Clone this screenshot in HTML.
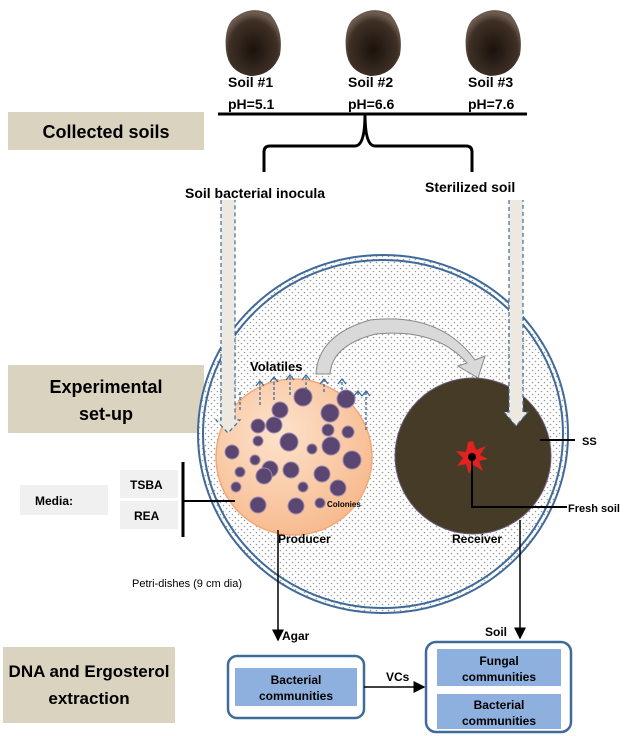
<!DOCTYPE html>
<html><head><meta charset="utf-8"><style>
body{margin:0;background:#fff;width:633px;height:736px;overflow:hidden;font-family:"Liberation Sans",sans-serif}
svg{position:absolute;left:0;top:0}
text{font-family:"Liberation Sans",sans-serif;font-weight:bold}
</style></head><body>
<svg width="633" height="736" viewBox="0 0 633 736">
<defs>
<pattern id="dots" width="6" height="6" patternUnits="userSpaceOnUse">
<rect width="6" height="6" fill="#fff"/><circle cx="1.5" cy="1.5" r="0.8" fill="#999"/><circle cx="4.5" cy="4.5" r="0.8" fill="#999"/>
</pattern>
<radialGradient id="soil" cx="50%" cy="60%" r="55%"><stop offset="0" stop-color="#1a120c"/><stop offset="0.8" stop-color="#3f3026"/><stop offset="1" stop-color="#6b5a4e"/></radialGradient>
<radialGradient id="agar" cx="40%" cy="35%" r="70%"><stop offset="0" stop-color="#fde2cc"/><stop offset="1" stop-color="#f7b98c"/></radialGradient>
<marker id="ah" markerWidth="8" markerHeight="8" refX="7" refY="4" orient="auto"><path d="M0,0 L8,4 L0,8z" fill="#000"/></marker>
</defs>
<!-- soils -->
<path d="M232,20 Q250,4 270,14 Q284,30 280,55 Q272,76 250,76 Q228,72 226,50 Q224,30 232,20Z" fill="url(#soil)"/>
<path d="M352,20 Q370,4 390,14 Q404,30 400,55 Q392,76 370,76 Q348,72 346,50 Q344,30 352,20Z" fill="url(#soil)"/>
<path d="M472,20 Q490,4 510,14 Q524,30 520,55 Q512,76 490,76 Q468,72 466,50 Q464,30 472,20Z" fill="url(#soil)"/>
<text x="228" y="87" font-size="14">Soil #1</text>
<text x="348" y="87" font-size="14">Soil #2</text>
<text x="468" y="87" font-size="14">Soil #3</text>
<text x="228" y="109" font-size="14">pH=5.1</text>
<text x="348" y="109" font-size="14">pH=6.6</text>
<text x="468" y="109" font-size="14">pH=7.6</text>
<line x1="218" y1="114" x2="527" y2="114" stroke="#000" stroke-width="3"/>
<path d="M365,114 Q365,146 355,146 L270,146 Q264,146 264,152 L264,172 M365,114 Q365,146 375,146 L466,146 Q472,146 472,152 L472,172" fill="none" stroke="#000" stroke-width="3"/>
<text x="185" y="198" font-size="14">Soil bacterial inocula</text>
<text x="425" y="192" font-size="14">Sterilized soil</text>
<!-- left labels -->
<rect x="8" y="112" width="196" height="38" fill="#d9d3bf"/>
<text x="106" y="138" font-size="18" text-anchor="middle">Collected soils</text>
<rect x="8" y="365" width="196" height="68" fill="#d9d3bf"/>
<text x="106" y="393" font-size="18" text-anchor="middle">Experimental</text>
<text x="106" y="420" font-size="18" text-anchor="middle">set-up</text>
<rect x="3" y="647" width="172" height="76" fill="#d9d3bf"/>
<text x="89" y="677" font-size="17" text-anchor="middle">DNA and Ergosterol</text>
<text x="89" y="704" font-size="17" text-anchor="middle">extraction</text>
<!-- big dish -->
<ellipse cx="383" cy="434" rx="185" ry="179" fill="url(#dots)" stroke="#3f6a99" stroke-width="2"/>
<ellipse cx="383" cy="434" rx="180" ry="174" fill="none" stroke="#3f6a99" stroke-width="2"/>
<!-- producer -->
<circle cx="294" cy="457" r="78" fill="url(#agar)" stroke="#f3a877" stroke-width="1.5"/>
<g fill="#5a4670" stroke="#9a88ad" stroke-width="1">
<circle cx="280" cy="410" r="8"/><circle cx="303" cy="397" r="9"/><circle cx="330" cy="413" r="9"/><circle cx="346" cy="399" r="9"/>
<circle cx="274" cy="425" r="8"/><circle cx="328" cy="430" r="6"/><circle cx="348" cy="432" r="6"/>
<circle cx="258" cy="441" r="5"/><circle cx="289" cy="442" r="9"/><circle cx="312" cy="449" r="5"/><circle cx="331" cy="446" r="9"/><circle cx="352" cy="460" r="9"/>
<circle cx="232" cy="452" r="7"/><circle cx="270" cy="469" r="8"/><circle cx="240" cy="472" r="5"/><circle cx="291" cy="470" r="8"/><circle cx="322" cy="474" r="8"/>
<circle cx="264" cy="476" r="8"/><circle cx="236" cy="487" r="5"/><circle cx="303" cy="487" r="5"/><circle cx="338" cy="488" r="8"/>
<circle cx="258" cy="505" r="8"/><circle cx="296" cy="506" r="8"/><circle cx="320" cy="503" r="5"/><circle cx="255" cy="460" r="5"/><circle cx="258" cy="426" r="7"/>
</g>
<text x="327" y="507" font-size="8">Colonies</text>
<g fill="none" stroke="#3f6a99" stroke-width="1.3" stroke-dasharray="3,2">
<path d="M240,410 V392 M260,405 V382 M274,400 V378 M290,395 V376 M306,390 V376 M324,392 V380 M342,395 V380 M358,395 V392 M366,430 V392"/>
</g>
<g fill="none" stroke="#3f6a99" stroke-width="1.3">
<path d="M256,386 l4,-5 l4,5 M270,382 l4,-5 l4,5 M286,380 l4,-5 l4,5 M302,380 l4,-5 l4,5 M320,384 l4,-5 l4,5 M338,384 l4,-5 l4,5 M354,396 l4,-5 l4,5 M362,396 l4,-5 l4,5"/>
</g>
<text x="250" y="371" font-size="13">Volatiles</text>
<path d="M316,374 Q318,335 370,320 Q440,312 475,360 L485,356 L478,378 L458,366 L467,363 Q436,328 376,334 Q332,345 330,374 Z" fill="#d9d9d9" stroke="#888" stroke-width="1"/>
<!-- receiver -->
<circle cx="473" cy="456" r="78" fill="#453b27" stroke="#6a5a7a" stroke-width="1"/>
<polygon points="473,441 476,450 486,446 480,455 488,459 479,461 483,471 474,465 469,474 466,464 457,466 463,458 456,451 466,452 468,442" fill="#e52020"/>
<circle cx="472" cy="457" r="4" fill="#000"/>
<path d="M472,457 V507 H567" fill="none" stroke="#000" stroke-width="2"/>
<text x="568" y="512" font-size="11">Fresh soil</text>
<line x1="540" y1="440" x2="575" y2="440" stroke="#000" stroke-width="2"/>
<text x="582" y="445" font-size="11">SS</text>
<text x="278" y="543" font-size="12">Producer</text>
<text x="452" y="543" font-size="12">Receiver</text>
<!-- dashed arrows -->
<path d="M221,200 V420 H216 L228,433 L240,420 H235 V200" fill="#ede9e0" stroke="#3f6a99" stroke-width="1.2" stroke-dasharray="4,3"/>
<path d="M509,200 V412 H504 L516,426 L528,412 H523 V200" fill="#ede9e0" stroke="#3f6a99" stroke-width="1.2" stroke-dasharray="4,3"/>
<!-- media -->
<rect x="20" y="485" width="88" height="30" fill="#f0f0f0"/>
<text x="35" y="505" font-size="12">Media:</text>
<rect x="120" y="470" width="58" height="28" fill="#f0f0f0"/>
<rect x="120" y="501" width="58" height="28" fill="#f0f0f0"/>
<text x="130" y="489" font-size="12">TSBA</text>
<text x="134" y="520" font-size="12">REA</text>
<line x1="183" y1="462" x2="183" y2="537" stroke="#000" stroke-width="3"/>
<line x1="183" y1="501" x2="235" y2="501" stroke="#000" stroke-width="2"/>
<!-- bottom -->
<text x="132" y="587" font-size="11" style="font-weight:normal">Petri-dishes (9 cm dia)</text>
<line x1="278" y1="530" x2="278" y2="640" stroke="#000" stroke-width="1.5" marker-end="url(#ah)"/>
<text x="282" y="640" font-size="12">Agar</text>
<line x1="520" y1="520" x2="520" y2="638" stroke="#000" stroke-width="1.5" marker-end="url(#ah)"/>
<text x="485" y="636" font-size="12">Soil</text>
<rect x="228" y="656" width="136" height="62" rx="9" fill="#fff" stroke="#3f6a99" stroke-width="2.5"/>
<rect x="235" y="668" width="122" height="38" fill="#8eb0de"/>
<text x="296" y="684" font-size="12" text-anchor="middle">Bacterial</text>
<text x="296" y="700" font-size="12" text-anchor="middle">communities</text>
<line x1="364" y1="687" x2="424" y2="687" stroke="#000" stroke-width="1.5" marker-end="url(#ah)"/>
<text x="386" y="681" font-size="12">VCs</text>
<rect x="426" y="642" width="145" height="90" rx="10" fill="#fff" stroke="#3f6a99" stroke-width="2.5"/>
<rect x="437" y="649" width="124" height="37" fill="#8eb0de"/>
<rect x="437" y="694" width="124" height="35" fill="#8eb0de"/>
<text x="499" y="665" font-size="12" text-anchor="middle">Fungal</text>
<text x="499" y="681" font-size="12" text-anchor="middle">communities</text>
<text x="499" y="709" font-size="12" text-anchor="middle">Bacterial</text>
<text x="499" y="725" font-size="12" text-anchor="middle">communities</text>
</svg>
</body></html>
